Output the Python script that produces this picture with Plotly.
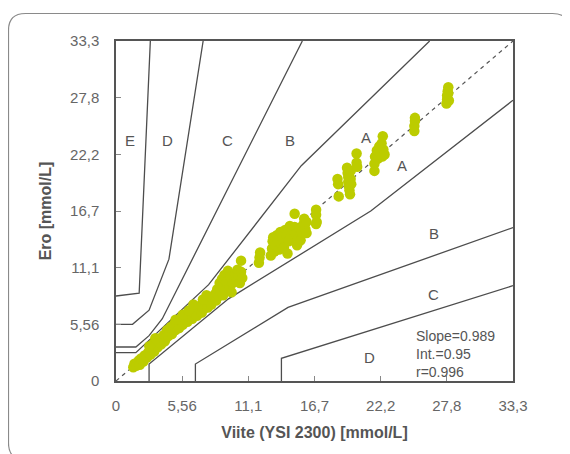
import plotly.graph_objects as go

MG = 18.0  # mg/dL per mmol/L

# Parkes error grid (type 1) boundaries in mg/dL
zone_lines_mgdl = {
    "A_upper": ([0, 30, 140, 280, 474], [50, 50, 170, 380, 600]),
    "A_lower": ([50, 50, 170, 385, 600], [0, 30, 145, 300, 495.5]),
    "B_upper": ([0, 30, 50, 70, 281.6], [60, 60, 80, 110, 600]),
    "B_lower": ([120, 120, 260, 600], [0, 30, 130, 270.7]),
    "C_upper": ([0, 25, 50, 80, 131.7], [100, 100, 125, 215, 600]),
    "C_lower": ([250, 250, 600], [0, 40, 168.3]),
    "D_upper": ([0, 35, 51.9], [150, 155, 600]),
}

tick_vals_mgdl = [0, 100, 200, 300, 400, 500, 600]
tick_text = ["0", "5,56", "11,1", "16,7", "22,2", "27,8", "33,3"]

# measurements (mmol/L)
ref_x = [
    1.45, 1.55, 1.7, 1.9, 2.0, 2.1, 2.3, 2.4, 2.6, 2.7, 2.9, 3.0, 3.1, 3.2, 3.3, 3.4, 3.5, 3.6, 3.7, 3.8, 3.9, 4.0, 4.1, 4.2,
    2.8, 3.3, 4.3, 4.4,
    4.5, 4.6, 4.7, 4.8, 4.9, 5.0, 5.1, 5.2, 5.3, 5.4, 5.5, 5.6, 5.8, 5.9, 6.0, 6.2, 6.3, 6.4, 6.6, 6.7, 6.8, 7.0, 7.1, 7.2, 7.4, 7.5, 7.7, 7.8, 8.0, 8.1,
    5.0, 5.6, 6.1, 6.5, 7.3, 7.6,
    8.3, 8.4, 8.5, 8.6, 8.7, 8.8, 8.9, 9.0, 9.0, 9.1, 9.2, 9.3, 9.4, 9.5, 9.6, 9.7, 9.8, 10.0, 10.1, 10.2, 10.3, 10.4, 10.5, 10.6, 10.5,
    12.0, 12.05, 12.1,
    13.0, 13.1, 13.15, 13.2, 13.3, 13.4, 13.5, 13.6, 13.7, 13.8, 13.9, 14.0, 14.1, 14.2, 14.3, 14.4, 14.5, 14.6, 14.7, 14.8,
    15.0, 15.0, 15.1, 15.2, 15.3, 15.4, 15.5, 15.6, 15.7, 15.8, 15.9, 16.0, 16.0, 16.8, 16.8, 16.85, 16.8,
    18.6, 18.65, 18.7, 19.4, 19.45, 19.5, 19.5, 19.55, 19.6, 19.65, 19.7, 19.75, 19.7, 20.2, 20.2, 20.25,
    21.7, 21.7, 21.75, 21.9, 22.0, 22.1, 22.2, 22.3, 22.35, 22.4, 22.45, 22.55,
    25.05, 25.05, 25.1, 25.1,
    27.75, 27.8, 27.8, 27.85, 27.9, 27.95, 27.9,
]
meas_y = [
    1.35, 1.7, 1.5, 2.0, 1.6, 2.2, 1.9, 2.5, 2.3, 2.8, 2.6, 3.2, 3.6, 2.9, 3.4, 3.9, 3.3, 3.8, 4.2, 3.6, 4.1, 4.5, 3.9, 4.3,
    3.4, 4.2, 5.0, 4.4,
    4.8, 5.3, 4.6, 5.1, 5.6, 5.0, 5.4, 5.9, 5.2, 5.7, 6.1, 5.5, 6.0, 6.4, 5.8, 6.3, 6.7, 6.1, 6.6, 7.1, 6.4, 6.9, 7.4, 6.7, 7.1, 7.6, 7.2, 7.9, 7.5, 8.1,
    6.0, 6.5, 6.9, 7.5, 8.0, 8.4,
    8.5, 7.9, 9.0, 8.3, 9.6, 8.8, 10.0, 8.4, 9.2, 10.4, 8.9, 9.7, 10.8, 9.1, 10.2, 8.7, 9.6, 10.5, 9.9, 10.9, 10.2, 9.6, 10.7, 10.1, 11.8,
    11.6, 12.1, 12.6,
    12.3, 13.0, 13.7, 14.1, 12.7, 13.3, 14.3, 13.8, 12.9, 14.6, 13.4, 14.0, 13.1, 14.8, 14.3, 12.5, 13.7, 15.2, 14.1, 14.8,
    16.4, 15.1, 14.4, 13.3, 14.0, 15.0, 13.8, 14.6, 15.3, 15.9, 14.9, 14.5, 15.6, 16.8, 16.3, 15.6, 15.4,
    19.8, 19.3, 18.1, 20.9, 20.4, 20.0, 19.5, 19.1, 18.7, 18.3, 19.8, 19.3, 20.6, 22.3, 21.4, 21.0,
    20.6, 21.3, 22.0, 22.6, 21.8, 23.0, 22.3, 23.3, 22.0, 24.0, 22.7, 22.2,
    24.5, 25.0, 25.5, 25.8,
    27.2, 27.6, 28.0, 28.4, 28.8, 27.5, 28.2,
]

zone_labels = ["E", "D", "C", "B", "A", "A", "B", "C", "D"]
zone_label_x = [1.14, 4.34, 9.38, 14.6, 20.97, 24.03, 26.66, 26.66, 21.28]
zone_label_y = [23.57, 23.57, 23.57, 23.57, 23.9, 21.1, 14.43, 8.46, 2.29]

stats_text = "Slope=0.989<br>Int.=0.95<br>r=0.996"
stats_x = 25.0
stats_y = 2.6

AX_MAX = 600 / MG
LINE_COL = "#4d4d4d"
TEXT_COL = "#555555"
FONT = "Liberation Sans, Arial, sans-serif"

fig = go.Figure()

for name, (xs, ys) in zone_lines_mgdl.items():
    fig.add_trace(go.Scatter(
        x=[v / MG for v in xs], y=[v / MG for v in ys], mode="lines",
        line=dict(color=LINE_COL, width=1.3), hoverinfo="skip", showlegend=False))

fig.add_trace(go.Scatter(
    x=[0, AX_MAX], y=[0, AX_MAX], mode="lines",
    line=dict(color="#555555", width=1.2, dash="4px,4px"), showlegend=False, hoverinfo="skip"))

fig.add_trace(go.Scatter(
    x=ref_x, y=meas_y, mode="markers",
    marker=dict(color="#bccc00", size=10.5, line=dict(width=0)), showlegend=False))

for t, x, y in zip(zone_labels, zone_label_x, zone_label_y):
    fig.add_annotation(x=x, y=y, text=t, showarrow=False,
                       font=dict(family=FONT, size=15, color=TEXT_COL))

fig.add_annotation(x=stats_x, y=stats_y, text=stats_text, showarrow=False,
                   xanchor="left", yanchor="middle", align="left",
                   font=dict(family=FONT, size=14, color=TEXT_COL))

# page body has an 8px margin, so the figure is drawn 8px smaller and offset
W, H = 562, 446
L, R, T, B = 108, 505, 33, 373
def px(xp):
    return (xp - L) / (R - L)
def py(yp):
    return (B - yp) / (B - T)

x0, x1, y0, y1, r = 0.5, 561.5, 5.5, 452, 17
path = (
    f"M {px(x0)},{py(y0 + r)} "
    f"Q {px(x0)},{py(y0)} {px(x0 + r)},{py(y0)} "
    f"L {px(x1 - r)},{py(y0)} "
    f"Q {px(x1)},{py(y0)} {px(x1)},{py(y0 + r)} "
    f"L {px(x1)},{py(y1 - r)} "
    f"Q {px(x1)},{py(y1)} {px(x1 - r)},{py(y1)} "
    f"L {px(x0 + r)},{py(y1)} "
    f"Q {px(x0)},{py(y1)} {px(x0)},{py(y1 - r)} Z"
)
fig.add_shape(type="path", path=path, xref="paper", yref="paper",
              line=dict(color="#8a8a8a", width=1.2), layer="below")

axis_common = dict(
    range=[0, AX_MAX], tickvals=[v / MG for v in tick_vals_mgdl], ticktext=tick_text,
    showgrid=False, zeroline=False, showline=True, mirror=True,
    linecolor="#555555", linewidth=1.5, ticks="inside", ticklen=5, tickcolor="#888888",
    tickfont=dict(family=FONT, size=15, color="#666666"),
)

fig.update_layout(
    width=W, height=H,
    margin=dict(l=L, r=W - R, t=T, b=H - B),
    paper_bgcolor="white", plot_bgcolor="white",
    xaxis=dict(**axis_common, ticklabelstandoff=10,
               title=dict(text="<b>Viite (YSI 2300) [mmol/L]</b>", standoff=14,
                          font=dict(family=FONT, size=16, color=TEXT_COL))),
    yaxis=dict(**axis_common, ticklabelstandoff=12,
               title=dict(text="<b>Ero [mmol/L]</b>", standoff=14,
                          font=dict(family=FONT, size=16, color=TEXT_COL))),
)

fig.write_html("out.html")
